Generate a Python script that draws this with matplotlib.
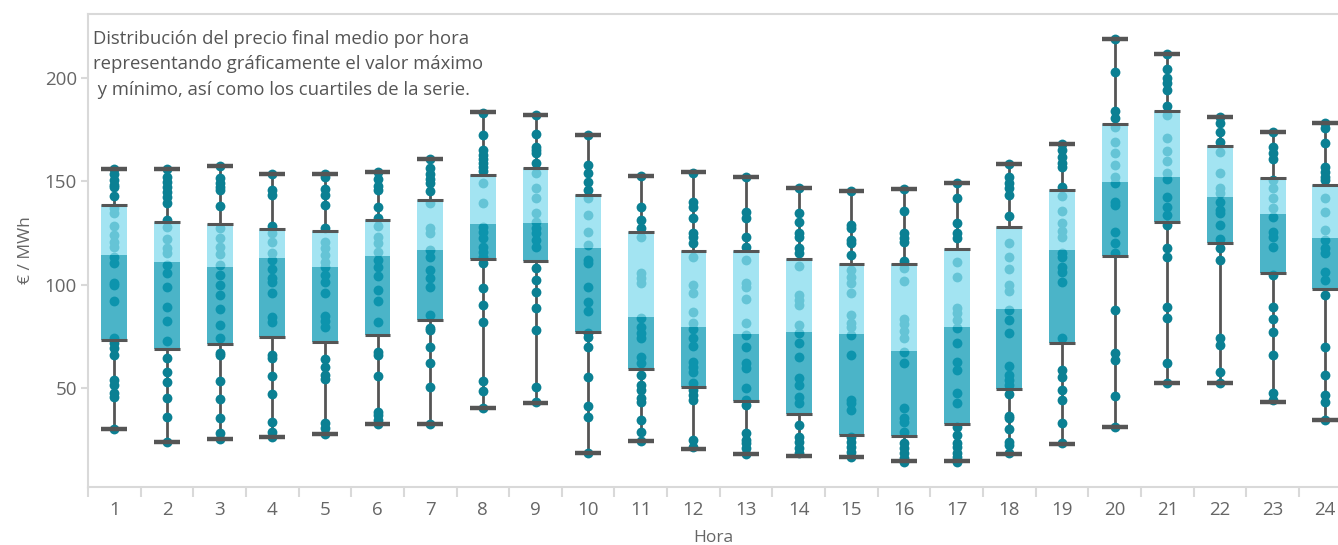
import matplotlib
matplotlib.use("Agg")
import matplotlib.pyplot as plt
from matplotlib.ticker import FixedLocator

plt.rcParams['font.family'] = ['Open Sans', 'DejaVu Sans']

hours = list(range(1, 25))
maxs    = [156.1, 156.1, 157.6, 153.7, 153.7, 154.7, 160.8, 183.7, 182.3, 172.6, 152.6, 154.7,
           152.3, 146.8, 145.5, 146.3, 149.3, 158.5, 168.2, 219.0, 211.6, 181.3, 174.0, 178.1]
q3s     = [138.7, 130.3, 129.4, 127.1, 126.1, 131.5, 141.1, 153.1, 156.4, 143.4, 125.5, 116.5,
           116.5, 112.6, 110.2, 110.0, 117.4, 127.9, 145.8, 177.7, 184.2, 167.1, 151.8, 148.2]
medians = [114.4, 111.0, 108.7, 112.7, 108.5, 113.9, 116.8, 129.4, 129.7, 117.7, 84.2, 79.3,
           76.1, 76.9, 76.1, 67.9, 79.7, 88.2, 116.8, 149.5, 152.3, 142.4, 134.2, 122.4]
q1s     = [73.4, 69.0, 71.3, 74.7, 72.4, 75.6, 83.1, 112.6, 111.5, 77.0, 59.3, 50.6,
           43.9, 37.6, 27.4, 26.8, 32.6, 49.7, 71.6, 114.0, 130.3, 120.0, 105.8, 97.8]
mins    = [30.2, 24.0, 25.5, 26.5, 27.9, 32.7, 32.7, 40.5, 42.9, 18.5, 24.5, 20.6,
           18.2, 17.3, 16.8, 14.8, 14.8, 18.2, 23.1, 31.3, 52.6, 52.6, 43.4, 34.5]

points = [
    [156.1, 153.5, 150.6, 148.2, 147.1, 142.9, 136.9, 134.5, 128.4, 124.0, 120.8, 118.4, 113.5, 110.3,
     101.0, 99.8, 92.1, 74.0, 71.6, 69.2, 66.0, 53.9, 51.5, 47.4, 45.8, 30.2],
    [156.1, 152.3, 149.8, 147.1, 145.0, 142.6, 139.3, 131.3, 127.7, 122.0, 117.6, 115.2, 109.5, 105.5,
     98.7, 89.4, 82.6, 72.9, 64.4, 57.9, 53.0, 45.3, 36.1, 24.0],
    [157.6, 151.4, 149.4, 147.1, 145.8, 138.1, 127.3, 122.4, 118.4, 114.8, 109.5, 104.7, 99.8, 95.0,
     88.1, 80.5, 74.0, 66.8, 66.0, 53.5, 44.7, 35.3, 28.1, 25.5],
    [153.7, 145.8, 143.4, 128.4, 125.2, 120.8, 115.2, 111.9, 107.4, 103.1, 101.4, 96.1, 84.5, 82.1,
     66.0, 64.4, 55.8, 47.1, 33.7, 28.9, 26.5],
    [153.7, 151.9, 146.1, 143.4, 138.5, 127.3, 120.8, 117.6, 114.4, 111.1, 108.7, 104.7, 101.4, 95.8,
     84.9, 82.6, 79.7, 63.9, 60.3, 56.3, 54.2, 32.9, 30.5, 27.9],
    [154.7, 151.0, 147.7, 145.8, 137.4, 132.1, 128.4, 123.2, 120.0, 116.0, 111.9, 108.7, 104.2, 97.4,
     92.3, 81.8, 67.6, 66.0, 55.8, 38.5, 36.9, 34.5, 32.7],
    [160.8, 156.3, 153.5, 151.0, 149.0, 145.5, 139.3, 127.3, 124.8, 116.8, 113.5, 107.1, 103.1, 99.0,
     85.3, 78.9, 78.1, 70.0, 61.9, 50.3, 32.7],
    [183.2, 172.4, 165.2, 162.7, 160.6, 158.7, 157.1, 155.2, 149.0, 139.4, 128.1, 125.6, 122.4, 118.4,
     116.0, 113.5, 110.3, 98.2, 90.2, 82.1, 53.5, 48.7, 40.5],
    [182.3, 172.9, 166.8, 165.2, 163.6, 158.7, 153.9, 146.6, 141.8, 134.5, 130.5, 127.3, 124.8, 121.6,
     118.4, 107.9, 102.3, 96.3, 88.5, 78.1, 50.6, 43.0],
    [172.6, 157.9, 153.9, 149.8, 145.8, 141.8, 133.7, 125.6, 119.2, 111.9, 110.3, 99.0, 91.8, 87.4,
     76.5, 74.5, 70.0, 55.5, 41.5, 35.8, 18.5],
    [152.6, 137.8, 131.3, 127.3, 123.2, 105.5, 103.1, 100.6, 83.7, 79.7, 76.5, 74.0, 65.2, 61.9,
     56.3, 51.5, 49.0, 45.0, 43.4, 34.5, 28.9, 24.5],
    [153.9, 140.2, 137.7, 132.1, 124.8, 123.2, 120.0, 113.5, 99.8, 96.1, 86.9, 81.3, 78.4, 74.0,
     70.3, 62.7, 60.3, 57.9, 52.3, 49.0, 46.6, 44.2, 24.8, 21.6],
    [151.9, 135.3, 132.1, 123.2, 118.4, 111.9, 101.0, 99.0, 92.9, 81.3, 75.6, 70.0, 61.9, 59.5,
     49.8, 44.2, 41.8, 28.1, 24.8, 23.2, 20.8, 18.2],
    [146.8, 134.8, 130.5, 124.8, 123.2, 117.6, 115.2, 109.0, 95.0, 92.6, 90.2, 80.5, 76.5, 71.6,
     65.2, 54.7, 51.5, 45.8, 42.6, 32.1, 26.5, 24.0, 20.8, 18.4],
    [145.5, 128.9, 127.3, 121.6, 120.0, 114.4, 107.1, 103.9, 100.6, 96.1, 85.3, 81.3, 79.7, 75.6,
     65.9, 44.2, 42.6, 39.4, 26.4, 24.0, 21.6, 19.2, 16.8],
    [146.3, 135.8, 124.8, 122.4, 120.8, 111.6, 107.9, 101.9, 83.2, 81.0, 77.7, 74.0, 67.6, 61.9,
     40.2, 35.3, 33.7, 28.9, 23.2, 20.8, 18.4, 15.9, 14.3],
    [149.3, 141.8, 129.7, 124.8, 122.4, 111.1, 103.9, 88.5, 86.1, 82.9, 78.9, 71.6, 62.7, 58.7,
     47.4, 42.9, 31.3, 27.3, 23.3, 21.6, 18.4, 16.8, 14.3],
    [158.4, 152.3, 149.0, 146.6, 143.4, 133.2, 120.3, 113.5, 107.4, 99.8, 97.1, 87.7, 82.9, 76.5,
     60.6, 56.3, 53.9, 51.5, 47.1, 36.5, 35.3, 30.0, 24.0, 22.4, 18.4],
    [168.1, 165.2, 162.0, 158.7, 157.1, 147.4, 142.9, 135.8, 130.0, 126.1, 122.9, 115.2, 113.6, 108.7,
     106.3, 101.4, 74.0, 58.7, 55.5, 49.0, 44.2, 32.9, 23.5],
    [219.0, 203.1, 184.2, 180.5, 176.4, 169.2, 163.5, 157.9, 152.3, 149.0, 140.2, 138.5, 125.6, 120.0,
     115.2, 87.7, 66.8, 63.5, 46.1, 31.3],
    [211.6, 204.2, 199.8, 197.4, 194.2, 186.5, 182.1, 170.8, 164.8, 160.0, 153.9, 151.0, 142.3, 137.7,
     133.7, 128.9, 117.6, 113.6, 89.0, 83.7, 62.3, 52.3],
    [181.3, 178.1, 174.0, 169.2, 164.4, 153.9, 146.6, 144.2, 140.2, 136.1, 134.5, 128.9, 121.9, 117.6,
     111.9, 74.0, 70.8, 57.9, 52.3],
    [174.0, 166.8, 163.5, 160.6, 150.6, 146.6, 141.8, 136.9, 132.9, 125.6, 123.2, 118.4, 104.7, 89.0,
     83.2, 77.3, 66.0, 47.4, 44.2],
    [178.1, 175.6, 168.7, 157.1, 154.7, 152.3, 150.6, 141.8, 135.3, 126.5, 121.6, 117.6, 115.2, 106.3,
     102.3, 95.0, 70.0, 56.3, 46.6, 43.4, 34.5],
]

title_text = ("Distribución del precio final medio por hora\n"
              "representando gráficamente el valor máximo\n"
              " y mínimo, así como los cuartiles de la serie.")

DOT = '#0b8093'
LIGHT = '#84dcee'
DARK = '#0e9bb6'
GRAY = '#555555'
AXC = '#d9d9d9'
TXT = '#666666'

fig = plt.figure(figsize=(13.38, 5.45), dpi=100)
ax = fig.add_axes([88 / 1338, 58 / 545, 1 - 88 / 1338 + 0.0, (487 - 14) / 545])

bw = 0.49
for i, h in enumerate(hours):
    ax.plot([h, h], [q3s[i], maxs[i]], color=GRAY, lw=2, zorder=1, solid_capstyle='butt')
    ax.plot([h, h], [mins[i], q1s[i]], color=GRAY, lw=2, zorder=1, solid_capstyle='butt')
    ax.scatter([h] * len(points[i]), points[i], s=50, color=DOT, linewidths=0, zorder=2)
    ax.bar(h, q3s[i] - medians[i], bottom=medians[i], width=bw, color=LIGHT, alpha=0.75,
           linewidth=0, zorder=3)
    ax.bar(h, medians[i] - q1s[i], bottom=q1s[i], width=bw, color=DARK, alpha=0.75,
           linewidth=0, zorder=3)
    ax.plot([h - bw / 2, h + bw / 2], [q3s[i], q3s[i]], color=GRAY, lw=2.2, zorder=4,
            solid_capstyle='butt')
    ax.plot([h - bw / 2, h + bw / 2], [q1s[i], q1s[i]], color=GRAY, lw=2.2, zorder=4,
            solid_capstyle='butt')
    ax.plot([h - bw / 2, h + bw / 2], [maxs[i], maxs[i]], color=GRAY, lw=3.2, zorder=4,
            solid_capstyle='butt')
    ax.plot([h - bw / 2, h + bw / 2], [mins[i], mins[i]], color=GRAY, lw=3.2, zorder=4,
            solid_capstyle='butt')

ax.set_xlim(0.5, 0.5 + (1338 - 88) / 52.65)
ax.set_ylim(2.1, 231.0)

for side in ['left', 'bottom', 'top']:
    ax.spines[side].set_color(AXC)
    ax.spines[side].set_linewidth(1.5)
ax.spines['right'].set_visible(False)

ax.set_xticks(hours)
ax.set_xticklabels([str(h) for h in hours])
ax.xaxis.set_minor_locator(FixedLocator([h + 0.5 for h in range(0, 25)]))
ax.tick_params(axis='x', which='major', length=0, pad=10, labelsize=13.5, labelcolor=TXT)
ax.tick_params(axis='x', which='minor', length=7, width=1.5, color=AXC)
ax.set_yticks([50, 100, 150, 200])
ax.tick_params(axis='y', which='major', length=5, width=1.5, color=AXC, pad=3,
               labelsize=13.5, labelcolor=TXT)

ax.set_xlabel('Hora', fontsize=12.5, color=TXT, labelpad=8)
ax.set_ylabel('€ / MWh', fontsize=12.5, color=TXT, labelpad=8)

ax.text(93 / 1338, 1 - 30 / 545, title_text, transform=fig.transFigure, ha='left', va='top',
        fontsize=13.3, color=GRAY, linespacing=1.52)

fig.savefig('out.png', dpi=100)
